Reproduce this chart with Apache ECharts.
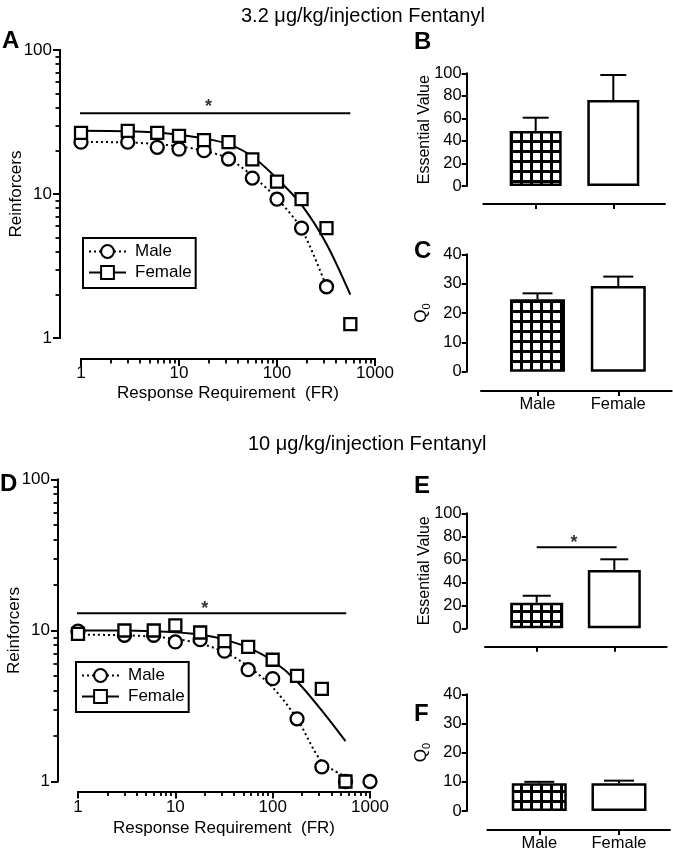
<!DOCTYPE html>
<html><head><meta charset="utf-8">
<script src="https://cdn.jsdelivr.net/npm/echarts@6/dist/echarts.min.js"></script>
<style>html,body{margin:0;padding:0;background:#fff}#c{width:673px;height:851px}</style>
</head><body><div id="c"></div>
<script>
// ---------- DATA ----------
const frA_female = [1,3,6,10,18,32,56,100,178,320,560];
const A_female   = [26.6,27.4,26.6,25.3,23.7,22.9,17.4,12.2,9.2,5.8,1.25];
const frA_male   = [1,3,6,10,18,32,56,100,178,320];
const A_male     = [22.9,22.9,21.1,20.5,20.0,17.5,12.9,9.2,5.8,2.27];
const frA_femaleFit = [1,3,6,10,18,32,56,100,178,320,560];
const A_femaleFit   = [27.5,27.3,26.7,25.8,24.3,22.2,18.2,12.8,8.4,4.5,2.0];
const frA_maleFit   = [1,3,6,10,18,32,56,100,178,320];
const A_maleFit     = [23.0,22.8,22.2,21.4,20.0,17.6,13.4,9.3,5.7,2.27];
const sigA_x = [0.87, 560]; const sigA_y = 36.3; const starA = [20, 40];

const frD_female = [1,3,6,10,18,32,56,100,178,320,560];
const D_female   = [9.5,10.0,10.0,10.8,9.7,8.5,7.8,6.4,5.0,4.1,1.0];
const frD_male   = [1,3,6,10,18,32,56,100,178,320,560,1000];
const D_male     = [9.9,9.3,9.3,8.4,8.7,7.3,5.5,4.8,2.6,1.25,1.0,1.0];
const frD_femaleFit = [1,3,6,10,18,32,56,100,178,320,560];
const D_femaleFit   = [10.0,10.0,9.9,9.75,9.4,8.7,7.7,6.3,4.6,2.95,1.85];
const frD_maleFit   = [1,3,6,10,18,32,56,100,178,320,560];
const D_maleFit     = [9.4,9.3,9.1,8.8,8.2,7.2,5.8,4.2,2.6,1.35,1.08];
const sigD_x = [0.89, 570]; const sigD_y = 13.0; const starD = [20, 13.9];

const categories = ['Male','Female'];
const B_mean = [48.8, 76.3]; const B_upper = [60.6, 98.5];
const C_mean = [24.7, 29.2]; const C_upper = [26.7, 32.4];
const E_mean = [22.3, 50.7]; const E_upper = [28.3, 60.0];
const F_mean = [9.5, 9.5];   const F_upper = [10.0, 10.4];
const sigE_x = [0, 1.03]; const sigE_y = 70.4; const starE = [0.48, 74.3];

const minorY = [2,3,4,5,6,7,8,9,20,30,40,50,60,70,80,90];
const minorX = [2,3,4,5,6,7,8,9,20,30,40,50,60,70,80,90,200,300,400,500,600,700,800,900];

// ---------- STYLE ----------
const FONT = '"Liberation Sans", Arial, Helvetica, sans-serif';
const BLACK = '#000';

function gridPattern(){
  const c = document.createElement('canvas'); c.width = 10; c.height = 10;
  const g = c.getContext('2d');
  g.fillStyle = '#fff'; g.fillRect(0,0,10,10);
  g.fillStyle = '#000'; g.fillRect(0,0,10,3); g.fillRect(0,0,3,10);
  return c;
}
const PATTERN = {image: gridPattern(), repeat: 'repeat'};

function logMain(gridIndex, min, max, offset, name, nameGap, margin){
  return {
    type:'log', logBase:10, gridIndex, min, max, offset,
    axisLine:{show:true, onZero:false, lineStyle:{color:BLACK, width:2}},
    axisTick:{show:true, length:7, lineStyle:{color:BLACK, width:2}},
    axisLabel:{color:BLACK, fontSize:17, fontFamily:FONT, margin, formatter:v=>String(Math.round(v))},
    splitLine:{show:false}, minorTick:{show:false},
    name, nameLocation:'middle', nameGap, nameMoveOverlap:false,
    nameTextStyle:{color:BLACK, fontSize:17, fontFamily:FONT}
  };
}
function logMinor(gridIndex, min, max, offset, minorVals){
  return {
    type:'log', logBase:10, gridIndex, min, max, offset,
    axisLine:{show:true, onZero:false, lineStyle:{color:BLACK, width:2}},
    axisTick:{show:true, length:4.5, customValues:minorVals, lineStyle:{color:BLACK, width:1.8}},
    axisLabel:{show:false}, splitLine:{show:false}
  };
}

function barX(gridIndex, min, max, offset, showLabels){
  return {
    type:'value', gridIndex, min, max, offset,
    axisLine:{show:true, onZero:false, lineStyle:{color:BLACK, width:2}},
    axisTick:{show:true, length:5, customValues:[0,1], lineStyle:{color:BLACK, width:2}},
    axisLabel:{show:showLabels, customValues:[0,1], formatter:v=>categories[Math.round(v)],
      color:BLACK, fontSize:16.5, fontFamily:FONT, margin:5},
    splitLine:{show:false}
  };
}
function barY(gridIndex, max, interval, offset, name, nameStyle){
  return {
    type:'value', gridIndex, min:0, max, interval, offset,
    axisLine:{show:true, onZero:false, lineStyle:{color:BLACK, width:2}},
    axisTick:{show:true, length:5, lineStyle:{color:BLACK, width:2}},
    axisLabel:{color:BLACK, fontSize:16.5, fontFamily:FONT, margin:5},
    splitLine:{show:false},
    name, nameLocation:'middle', nameGap:34, nameMoveOverlap:false,
    nameTextStyle: nameStyle
  };
}

const evStyle = {color:BLACK, fontSize:16, fontFamily:FONT};
const q0Style = {color:BLACK, fontFamily:FONT,
  rich:{q:{fontSize:17, fontFamily:FONT, color:BLACK, lineHeight:22},
        s:{fontSize:11, fontFamily:FONT, color:BLACK, lineHeight:22, verticalAlign:'bottom'}}};

const gA = {left:81, top:50, width:294, height:288};
const gD = {left:78, top:479.5, width:292, height:302};
const grids = [
  gA, gD,
  {left:483.3, top:73.3, width:181.7, height:112.7},
  {left:481, top:254.3, width:190.7, height:117.4},
  {left:485, top:513.3, width:181.7, height:115},
  {left:487.3, top:694.3, width:182.7, height:116.7},
  Object.assign({}, gA), Object.assign({}, gD)   // overlay grids for minor ticks
].map(g=>Object.assign({outerBoundsMode:'none', containLabel:false}, g));

const xAxes = [
  logMain(0, 1, 1000, 21, 'Response Requirement  (FR)', 26, 6),
  logMain(1, 1, 1000, 10, 'Response Requirement  (FR)', 28, 7),
  barX(2, -0.675, 1.666, 18, false),
  barX(3, -0.699, 1.661, 19.3, true),
  barX(4, -0.666, 1.675, 18.4, false),
  barX(5, -0.652, 1.640, 19, true),
  logMinor(6, 1, 1000, 21, minorX),
  logMinor(7, 1, 1000, 10, minorX)];
const yAxes = [
  logMain(0, 1, 100, 21, 'Reinforcers', 35, 8),
  logMain(1, 1, 100, 20, 'Reinforcers', 35, 8),
  barY(2, 100, 20, 16.6, 'Essential Value', evStyle),
  barY(3, 40, 10, 14.3, '{q|Q}{s|0}', q0Style),
  barY(4, 100, 20, 18.3, 'Essential Value', evStyle),
  barY(5, 40, 10, 20.6, '{q|Q}{s|0}', q0Style),
  logMinor(6, 1, 100, 21, minorY),
  logMinor(7, 1, 100, 20, minorY)];

const zip = (xs, ys) => xs.map((x,i)=>[x, ys[i]]);
const markerStyle = {color:'#fff', borderColor:BLACK, borderWidth:2.3, opacity:1};

function markers(ax, xs, ys, symbol, size, z){
  return {type:'scatter', xAxisIndex:ax, yAxisIndex:ax, data:zip(xs,ys), symbol, symbolSize:size,
    itemStyle:markerStyle, z, clip:false, silent:true};
}
function curve(ax, xs, ys, dotted){
  return {type:'line', xAxisIndex:ax, yAxisIndex:ax, data:zip(xs,ys), symbol:'none', showSymbol:false,
    smooth:0.3, clip:false, silent:true, z:1,
    lineStyle:{color:BLACK, width:2, type: dotted ? [2,3] : 'solid'}};
}
function sigLine(xi, yi, xs, y){
  return {type:'line', xAxisIndex:xi, yAxisIndex:yi, data:xs.map(x=>[x,y]), symbol:'none', clip:false,
    silent:true, lineStyle:{color:BLACK, width:2}, z:1};
}
function star(xi, yi, pt){
  return {type:'scatter', xAxisIndex:xi, yAxisIndex:yi, data:[pt], symbolSize:1, clip:false, silent:true,
    itemStyle:{color:'rgba(0,0,0,0)'},
    label:{show:true, position:'inside', formatter:'*', color:BLACK, fontSize:18, fontWeight:'bold', fontFamily:FONT}};
}
function bars(ax, means, width){
  return {type:'bar', xAxisIndex:ax, yAxisIndex:ax, barWidth:width, silent:true, z:2,
    data: means.map((m,i)=>({value:[i,m], itemStyle:{color: i===0 ? PATTERN : '#fff'}})),
    itemStyle:{borderColor:BLACK, borderWidth:2.5, opacity:1}};
}
function errs(ax, means, uppers, cap){
  return {type:'custom', xAxisIndex:ax, yAxisIndex:ax, silent:true, z:3,
    data: means.map((m,i)=>[i, m, uppers[i]]),
    renderItem(params, api){
      const x = api.value(0);
      const p0 = api.coord([x, api.value(1)]);
      const p1 = api.coord([x, api.value(2)]);
      return {type:'group', children:[
        {type:'line', shape:{x1:p0[0], y1:p0[1], x2:p1[0], y2:p1[1]}, style:{stroke:BLACK, lineWidth:2}},
        {type:'line', shape:{x1:p1[0]-cap, y1:p1[1], x2:p1[0]+cap, y2:p1[1]}, style:{stroke:BLACK, lineWidth:2}}
      ]};
    }};
}

const series = [
  // legend proxies
  {type:'line', name:'Male', xAxisIndex:0, yAxisIndex:0, data:[], symbol:'circle', symbolSize:13,
    itemStyle:markerStyle, lineStyle:{color:BLACK, width:2, type:[2,3]}},
  {type:'line', name:'Female', xAxisIndex:0, yAxisIndex:0, data:[], symbol:'rect', symbolSize:12,
    itemStyle:markerStyle, lineStyle:{color:BLACK, width:2}},
  // minor-tick grids need a series each
  {type:'line', xAxisIndex:6, yAxisIndex:6, data:[], silent:true},
  {type:'line', xAxisIndex:7, yAxisIndex:7, data:[], silent:true},
  // Panel A
  curve(0, frA_maleFit, A_maleFit, true),
  curve(0, frA_femaleFit, A_femaleFit, false),
  markers(0, frA_male, A_male, 'circle', 13, 4),
  markers(0, frA_female, A_female, 'rect', 12, 5),
  sigLine(0, 0, sigA_x, sigA_y),
  star(0, 0, starA),
  // Panel D
  curve(1, frD_maleFit, D_maleFit, true),
  curve(1, frD_femaleFit, D_femaleFit, false),
  markers(1, frD_male, D_male, 'circle', 13, 4),
  markers(1, frD_female, D_female, 'rect', 12, 5),
  sigLine(1, 1, sigD_x, sigD_y),
  star(1, 1, starD),
  // Bars
  bars(2, B_mean, 52), errs(2, B_mean, B_upper, 13),
  bars(3, C_mean, 55), errs(3, C_mean, C_upper, 15),
  bars(4, E_mean, 53), errs(4, E_mean, E_upper, 14),
  bars(5, F_mean, 55), errs(5, F_mean, F_upper, 15),
  sigLine(4, 4, sigE_x, sigE_y),
  star(4, 4, starE)
];

function legendAt(left, top){
  return {data:['Male','Female'], orient:'vertical', left, top, itemWidth:37, itemHeight:16, itemGap:4,
    borderColor:BLACK, borderWidth:2, borderRadius:0, padding:[5,4,7,5], selectedMode:false,
    textStyle:{color:BLACK, fontSize:17, fontFamily:FONT, lineHeight:16, padding:[0,0,0,4]}};
}

const tStyle = {color:BLACK, fontSize:20, fontWeight:'normal', fontFamily:FONT};
const lStyle = {color:BLACK, fontSize:24, fontWeight:'bold', fontFamily:FONT};
const titles = [
  {text:'3.2 μg/kg/injection Fentanyl', left:241, top:6, padding:0, textStyle:tStyle},
  {text:'10 μg/kg/injection Fentanyl', left:248, top:434, padding:0, textStyle:tStyle},
  {text:'A', left:2, top:29, padding:0, textStyle:lStyle},
  {text:'B', left:414, top:30, padding:0, textStyle:lStyle},
  {text:'C', left:414, top:239, padding:0, textStyle:lStyle},
  {text:'D', left:0, top:472, padding:0, textStyle:lStyle},
  {text:'E', left:414, top:474, padding:0, textStyle:lStyle},
  {text:'F', left:414, top:702, padding:0, textStyle:lStyle}
];

const chart = echarts.init(document.getElementById('c'), null, {renderer:'canvas'});
chart.setOption({
  animation:false, backgroundColor:'#fff',
  title: titles,
  legend: [legendAt(83, 238), legendAt(76, 662)],
  grid: grids, xAxis: xAxes, yAxis: yAxes, series
});
</script></body></html>
